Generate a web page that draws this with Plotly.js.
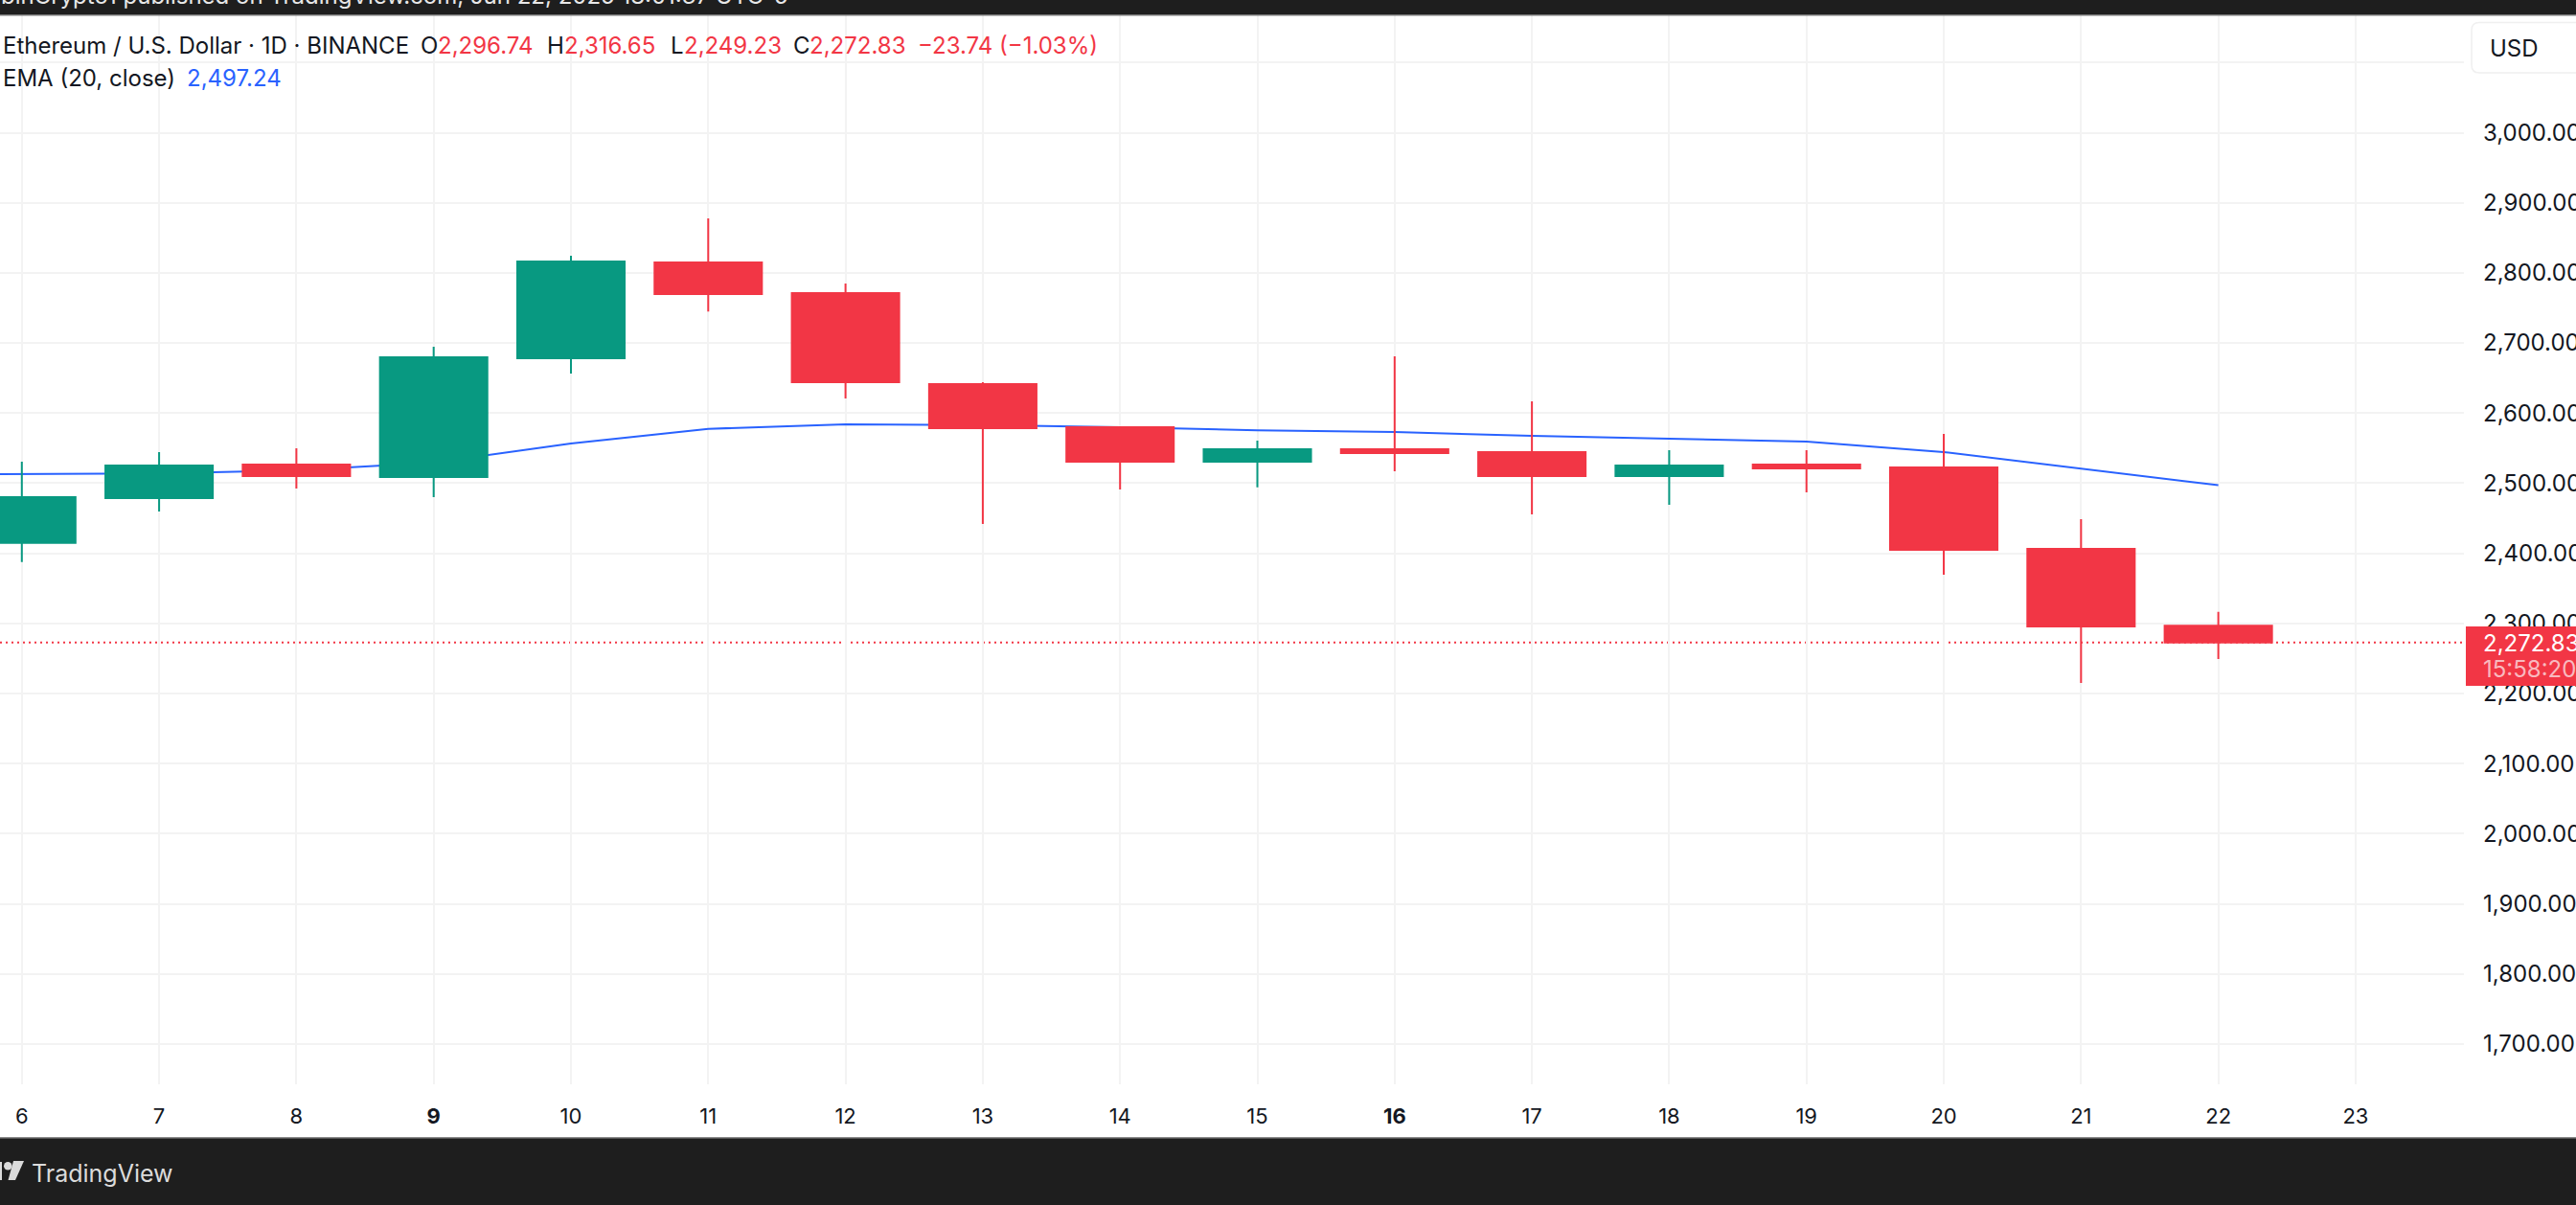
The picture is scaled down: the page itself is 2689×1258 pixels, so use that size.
<!DOCTYPE html>
<html>
<head>
<meta charset="utf-8">
<script src="https://cdn.plot.ly/plotly-3.0.1.min.js"></script>
<style>html,body{margin:0;padding:0;background:#fff;overflow:hidden}#chart{width:2689px;height:1258px}</style>
</head>
<body>
<div id="chart"></div>
<script>
const days  = [6,7,8,9,10,11,12,13,14,15,16,17,18,19,20,21,22];
const open  = [2415,2478.8,2526.6,2508.8,2678.3,2814.9,2771.2,2641.4,2579.9,2530.7,2548.4,2544.4,2510.2,2526.6,2522.5,2406.4,2296.74];
const high  = [2530.7,2544.3,2549.8,2694.6,2824.4,2877.7,2784.8,2644,2580,2560.7,2681,2616.8,2547,2547,2570.3,2448.7,2316.65];
const low   = [2387.6,2459.7,2492.4,2480,2656.4,2745,2620.9,2441.9,2491,2494.2,2517,2455.5,2469.2,2486.9,2369.5,2215,2249.23];
const close = [2480,2525.2,2510.2,2679.6,2816.2,2769.8,2644.1,2578.5,2530.7,2548.4,2543,2510.2,2525.2,2521,2405,2295.7,2272.83];
const emaDays = [5,6,7,8,9,10,11,12,13,14,15,16,17,18,19,20,21,22];
const ema     = [2512,2513,2514,2518.4,2529.3,2556.6,2577.6,2583.9,2583,2580,2575.4,2573,2567.6,2563.5,2559.4,2544.4,2521,2497.24];
const dayTicks  = [6,7,8,9,10,11,12,13,14,15,16,17,18,19,20,21,22,23];
const dayLabels = ['6','7','8','<b>9</b>','10','11','12','13','14','15','<b>16</b>','17','18','19','20','21','22','23'];
const priceTicks  = [1700,1800,1900,2000,2100,2200,2300,2400,2500,2600,2700,2800,2900,3000,3100];
const priceLabels = ['1,700.00','1,800.00','1,900.00','2,000.00','2,100.00','2,200.00','2,300.00','2,400.00','2,500.00','2,600.00','2,700.00','2,800.00','2,900.00','3,000.00',''];
const lastClose = 2272.83;
const ohlcLabels = [['O',439,'2,296.74',457],['H',571,'2,316.65',589],['L',700,'2,249.23',714],['C',828,'2,272.83',845]];

const W=2689,H=1258,L=0,R=2572,T=16,B=1132;
const RED='#F23645',GREEN='#089981',BLUE='#2962FF',INK='#131722',FONT='Inter, "Noto Sans", sans-serif',DARK='#1E1E1E';
const px=x=>(x-L)/(R-L), py=y=>1-(y-T)/(B-T);
const xr=[5.841,23.789], yr=[1642.6,3167.4];

const traces=[
 {type:'scatter',mode:'lines',x:emaDays,y:ema,xaxis:'x',yaxis:'y',line:{color:BLUE,width:2},hoverinfo:'skip'},
 {type:'candlestick',x:days,open,high,low,close,xaxis:'x2',yaxis:'y2',whiskerwidth:0,
  increasing:{line:{color:GREEN,width:2},fillcolor:GREEN},
  decreasing:{line:{color:RED,width:2},fillcolor:RED},hoverinfo:'skip'}
];
const text=(x,y,t,color,size,extra)=>Object.assign({xref:'paper',yref:'paper',x:px(x),y:py(y),text:t,showarrow:false,
  xanchor:'left',yanchor:'middle',align:'left',borderpad:0,borderwidth:0,font:{family:FONT,size:size||24,color:color||INK}},extra||{});
const annotations=[
 text(3,47,'Ethereum / U.S. Dollar · 1D · BINANCE'),
 text(3,82,'EMA (20, close)'),
 text(195,82,'2,497.24',BLUE),
 text(958,47,'−23.74 (−1.03%)',RED),
 text(2599,50,'USD'),
 text(2592,671,'2,272.83','#FFFFFF'),
 text(2592,698,'15:58:20','#F9B9BF'),
 text(33,1225,'TradingView','#DBDBDB',25),
 text(1,-5,'binCrypto1 published on TradingView.com, Jun 22, 2025 18:01:37 UTC-5','#E8E8E8',24)
];
ohlcLabels.forEach(r=>{annotations.push(text(r[1],47,r[0]));annotations.push(text(r[3],47,r[2],RED));});
const rect=(x0,y0,x1,y1,c)=>({type:'rect',xref:'paper',yref:'paper',x0:px(x0),x1:px(x1),y0:py(y0),y1:py(y1),fillcolor:c,line:{width:0},layer:'above'});
const shapes=[
 {type:'line',xref:'paper',yref:'y',x0:0,x1:1,y0:lastClose,y1:lastClose,line:{color:RED,width:2,dash:'2px,4px'},layer:'below'},
 rect(0,0,W,16,DARK), rect(0,15,W,16.5,'#777777'),
 rect(0,1188,W,H,DARK), rect(0,1187,W,1188.5,'#8A8A8A'),
 rect(2574,654,W,716,RED),
 {type:'path',xref:'paper',yref:'paper',layer:'above',fillcolor:'#FFFFFF',line:{color:'#F0F0F0',width:1.5},
  path:`M ${px(2700)} ${py(23.5)} L ${px(2588)} ${py(23.5)} Q ${px(2580)} ${py(23.5)} ${px(2580)} ${py(31.5)} L ${px(2580)} ${py(68)} Q ${px(2580)} ${py(76)} ${px(2588)} ${py(76)} L ${px(2700)} ${py(76)}`},
 rect(0,1213,2,1232,'#DBDBDB'),
 {type:'circle',xref:'paper',yref:'paper',layer:'above',x0:px(4),x1:px(12.5),y0:py(1213),y1:py(1221.5),fillcolor:'#DBDBDB',line:{width:0}},
 {type:'path',xref:'paper',yref:'paper',layer:'above',fillcolor:'#DBDBDB',line:{width:0},
  path:`M ${px(14)} ${py(1212)} L ${px(25)} ${py(1212)} L ${px(16)} ${py(1232)} L ${px(8.5)} ${py(1232)} Z`}
];
const layout={
 width:W,height:H,margin:{l:L,r:W-R,t:T,b:H-B,pad:0},paper_bgcolor:'#fff',plot_bgcolor:'#fff',showlegend:false,hovermode:false,
 boxgap:0.218,boxgroupgap:0,
 xaxis:{type:'linear',range:xr,tickvals:dayTicks,ticktext:dayLabels,ticks:'',showgrid:true,gridcolor:'#F3F3F3',gridwidth:2,zeroline:false,showline:false,
   tickfont:{family:FONT,size:22,color:INK},ticklabelstandoff:18,automargin:false,fixedrange:true},
 yaxis:{type:'linear',range:yr,side:'right',tickvals:priceTicks,ticktext:priceLabels,ticks:'',showgrid:true,gridcolor:'#F3F3F3',gridwidth:2,zeroline:false,showline:false,
   tickfont:{family:FONT,size:24,color:INK},ticklabelstandoff:19,ticklabeloverflow:'allow',automargin:false,fixedrange:true},
 xaxis2:{type:'linear',range:xr,overlaying:'x',anchor:'y2',visible:false,fixedrange:true,rangeslider:{visible:false}},
 yaxis2:{type:'linear',range:yr,overlaying:'y',anchor:'x2',side:'right',visible:false,fixedrange:true},
 annotations,shapes
};
Plotly.newPlot('chart',traces,layout,{displayModeBar:false,staticPlot:true});
</script>
</body>
</html>
